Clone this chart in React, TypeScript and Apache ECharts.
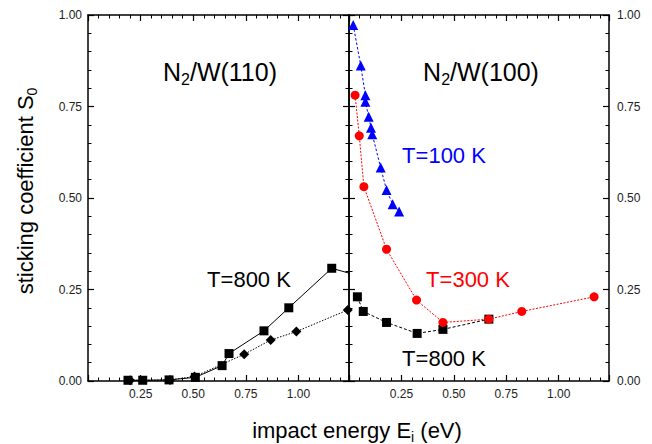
import React, { useEffect, useRef } from 'react';
import * as echarts from 'echarts';

// N2/W(110), T=800 K (squares, solid) and diamonds (dotted)
const w110Squares: number[][] = [
  [0.19, 0.002], [0.26, 0.002], [0.385, 0.003], [0.51, 0.01], [0.637, 0.042],
  [0.67, 0.075], [0.836, 0.137], [0.954, 0.2], [1.158, 0.308], [1.3, 0.285],
];
const w110Diamonds: number[][] = [
  [0.2, 0.002], [0.39, 0.003], [0.506, 0.012], [0.742, 0.073], [0.868, 0.112],
  [0.99, 0.135], [1.234, 0.194],
];
// N2/W(100)
const w100T100: number[][] = [
  [0.02, 0.973], [0.056, 0.862], [0.078, 0.781], [0.078, 0.763], [0.094, 0.722],
  [0.105, 0.692], [0.111, 0.674], [0.151, 0.583], [0.179, 0.522], [0.208, 0.483],
  [0.239, 0.463],
];
const w100T300: number[][] = [
  [0.029, 0.781], [0.049, 0.67], [0.071, 0.531], [0.179, 0.36], [0.322, 0.221],
  [0.448, 0.16], [0.667, 0.169], [0.824, 0.19], [1.169, 0.23],
];
const w100T800: number[][] = [
  [0.04, 0.23], [0.068, 0.19], [0.179, 0.16], [0.325, 0.13], [0.448, 0.141],
  [0.667, 0.169],
];

const xMin = 0;
const xMax = 1.24;
const xInterval = 0.25;
const yMin = 0;
const yMax = 1;
const yInterval = 0.25;

const FONT = '"Liberation Sans", Arial, Helvetica, sans-serif';

const fmtX = (v: number) => {
  if (v <= 0) return '';
  const r = Math.round(v / 0.25) * 0.25;
  if (Math.abs(r - v) > 1e-6) return '';
  return v.toFixed(2);
};
const fmtY = (v: number) => v.toFixed(2);

function makeX(gridIndex: number, position: 'top' | 'bottom', labels: boolean) {
  return {
    type: 'value',
    gridIndex,
    position,
    min: xMin,
    max: xMax,
    interval: xInterval,
    axisLine: { show: true, onZero: false, lineStyle: { color: '#000', width: 1.5 } },
    axisTick: { show: true, inside: true, length: 6, lineStyle: { color: '#000', width: 1.2 } },
    minorTick: { show: true, splitNumber: 5, length: 3.5, lineStyle: { color: '#000', width: 1 } },
    splitLine: { show: false },
    minorSplitLine: { show: false },
    axisLabel: {
      show: labels,
      formatter: fmtX,
      fontSize: 12,
      color: '#222',
      fontFamily: FONT,
      margin: 7,
      showMaxLabel: false,
    },
  };
}

function makeY(gridIndex: number, position: 'left' | 'right', labels: boolean) {
  return {
    type: 'value',
    gridIndex,
    position,
    min: yMin,
    max: yMax,
    interval: yInterval,
    axisLine: { show: true, onZero: false, lineStyle: { color: '#000', width: 1.5 } },
    axisTick: { show: true, inside: true, length: 6, lineStyle: { color: '#000', width: 1.2 } },
    minorTick: { show: true, splitNumber: 5, length: 3.5, lineStyle: { color: '#000', width: 1 } },
    splitLine: { show: false },
    minorSplitLine: { show: false },
    axisLabel: {
      show: labels,
      formatter: fmtY,
      fontSize: 12,
      color: '#222',
      fontFamily: FONT,
      margin: position === 'left' ? 6 : 8,
    },
  };
}

export default function App() {
  const ref = useRef<HTMLDivElement>(null);
  useEffect(() => {
    if (!ref.current) return;
    const chart = echarts.init(ref.current, undefined, { renderer: 'svg' });
    const option: any = {
      animation: false,
      backgroundColor: '#fff',
      grid: [
        { left: 88, top: 15, width: 261, height: 366 },
        { left: 349, top: 15, width: 260, height: 366 },
      ],
      xAxis: [
        makeX(0, 'bottom', true),
        makeX(0, 'top', false),
        makeX(1, 'bottom', true),
        makeX(1, 'top', false),
      ],
      yAxis: [
        makeY(0, 'left', true),
        makeY(0, 'right', false),
        makeY(1, 'left', false),
        makeY(1, 'right', true),
      ],
      series: [
        {
          type: 'line', xAxisIndex: 0, yAxisIndex: 0, data: w110Squares,
          symbol: 'rect', symbolSize: 9, clip: true,
          itemStyle: { color: '#000' }, lineStyle: { color: '#000', width: 1 },
        },
        {
          type: 'line', xAxisIndex: 0, yAxisIndex: 0, data: w110Diamonds,
          symbol: 'diamond', symbolSize: 10, clip: true,
          itemStyle: { color: '#000' }, lineStyle: { color: '#000', width: 1, type: [1.5, 1.5] },
        },
        {
          type: 'line', xAxisIndex: 2, yAxisIndex: 2, data: w100T100,
          symbol: 'triangle', symbolSize: 10, clip: true,
          itemStyle: { color: '#0000ff' }, lineStyle: { color: '#0000ff', width: 1, type: [2.5, 2] },
        },
        {
          type: 'line', xAxisIndex: 2, yAxisIndex: 2, data: w100T800,
          symbol: 'rect', symbolSize: 9, clip: true,
          itemStyle: { color: '#000' }, lineStyle: { color: '#000', width: 1, type: [3, 2] },
        },
        {
          type: 'line', xAxisIndex: 2, yAxisIndex: 2, data: w100T300,
          symbol: 'circle', symbolSize: 9, clip: true,
          itemStyle: { color: '#ff0000' }, lineStyle: { color: '#ff0000', width: 1, type: [2, 1.5] },
        },
      ],
      graphic: [
        {
          type: 'text', x: 220, y: 72,
          style: {
            text: '{n|N}{s|2}{n|/W(110)}',
            textAlign: 'center', textVerticalAlign: 'middle', align: 'center', verticalAlign: 'middle',
            fill: '#000', fontFamily: FONT, fontSize: 25,
            rich: {
              n: { fontSize: 25, fontFamily: FONT, fill: '#000' },
              s: { fontSize: 16, fontFamily: FONT, fill: '#000', padding: [14, 0, 0, 0] },
            },
          },
        },
        {
          type: 'text', x: 481, y: 72,
          style: {
            text: '{n|N}{s|2}{n|/W(100)}',
            textAlign: 'center', textVerticalAlign: 'middle', align: 'center', verticalAlign: 'middle',
            fill: '#000', fontFamily: FONT, fontSize: 25,
            rich: {
              n: { fontSize: 25, fontFamily: FONT, fill: '#000' },
              s: { fontSize: 16, fontFamily: FONT, fill: '#000', padding: [14, 0, 0, 0] },
            },
          },
        },
        {
          type: 'text', x: 249, y: 279,
          style: {
            text: 'T=800 K', fill: '#000', fontFamily: FONT, fontSize: 22,
            textAlign: 'center', textVerticalAlign: 'middle', align: 'center', verticalAlign: 'middle',
          },
        },
        {
          type: 'text', x: 444, y: 155,
          style: {
            text: 'T=100 K', fill: '#0000ff', fontFamily: FONT, fontSize: 22,
            textAlign: 'center', textVerticalAlign: 'middle', align: 'center', verticalAlign: 'middle',
          },
        },
        {
          type: 'text', x: 468, y: 279,
          style: {
            text: 'T=300 K', fill: '#ff0000', fontFamily: FONT, fontSize: 22,
            textAlign: 'center', textVerticalAlign: 'middle', align: 'center', verticalAlign: 'middle',
          },
        },
        {
          type: 'text', x: 444, y: 358,
          style: {
            text: 'T=800 K', fill: '#000', fontFamily: FONT, fontSize: 22,
            textAlign: 'center', textVerticalAlign: 'middle', align: 'center', verticalAlign: 'middle',
          },
        },
        {
          type: 'text', x: 357, y: 430,
          style: {
            text: '{n|impact energy E}{s|i}{n| (eV)}',
            textAlign: 'center', textVerticalAlign: 'middle', align: 'center', verticalAlign: 'middle',
            fill: '#000', fontFamily: FONT, fontSize: 22,
            rich: {
              n: { fontSize: 22, fontFamily: FONT, fill: '#000' },
              s: { fontSize: 14, fontFamily: FONT, fill: '#000', padding: [13, 0, 0, 0] },
            },
          },
        },
        {
          type: 'text', x: 25, y: 191, rotation: Math.PI / 2,
          style: {
            text: '{n|sticking coefficient S}{s|0}',
            textAlign: 'center', textVerticalAlign: 'middle', align: 'center', verticalAlign: 'middle',
            fill: '#000', fontFamily: FONT, fontSize: 22,
            rich: {
              n: { fontSize: 22, fontFamily: FONT, fill: '#000' },
              s: { fontSize: 14, fontFamily: FONT, fill: '#000', padding: [13, 0, 0, 0] },
            },
          },
        },
      ],
    };
    chart.setOption(option);
    return () => chart.dispose();
  }, []);
  return <div ref={ref} style={{ width: 652, height: 444, position: 'absolute', left: 0, top: 0 }} />;
}
